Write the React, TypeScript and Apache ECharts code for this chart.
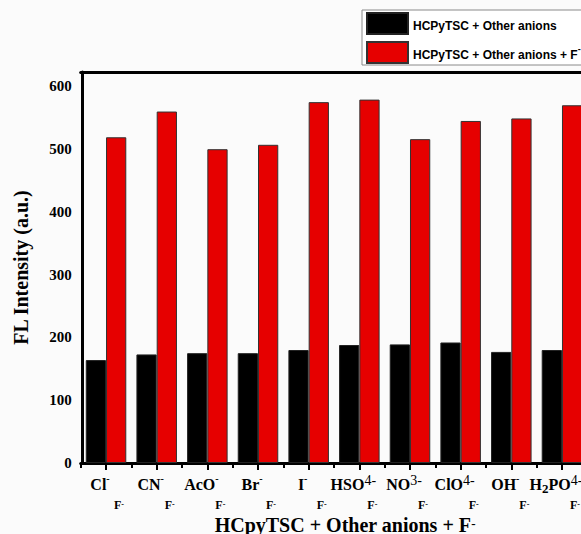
import React, { useEffect, useRef } from "react";
import * as echarts from "echarts";

const anionLabels = [
  "{m|Cl}{sup|-}",
  "{m|CN}{sup|-}",
  "{m|AcO}{sup|-}",
  "{m|Br}{sup|-}",
  "{m|I}{sup|-}",
  "{m|HSO}{sup2|4-}",
  "{m|NO}{sup2|3-}",
  "{m|ClO}{sup2|4-}",
  "{m|OH}{sup|-}",
  "{m|H}{sub|2}{m|PO}{sup2|4-}",
];
const categories = ["Cl-", "CN-", "AcO-", "Br-", "I-", "HSO4-", "NO3-", "ClO4-", "OH-", "H2PO4-"];
const seriesNames = ["HCPyTSC + Other anions", "HCPyTSC + Other anions + F-"];
const withoutF = [164, 173, 175, 175, 180, 188, 189, 192, 177, 180];
const withF = [519, 560, 500, 507, 575, 579, 516, 545, 549, 570];
const yTicks = { min: 0, max: 623, interval: 100 };

const serif = "'Times New Roman', 'Liberation Serif', serif";

export default function App() {
  const ref = useRef<HTMLDivElement>(null);
  useEffect(() => {
    if (!ref.current) return;
    const chart = echarts.init(ref.current, undefined, { renderer: "svg" });
    const richLabel = {
      m: { fontFamily: serif, fontWeight: "bold", fontSize: 16, color: "#000", lineHeight: 22, verticalAlign: "middle" },
      sup: { fontFamily: serif, fontWeight: "bold", fontSize: 10, color: "#000", lineHeight: 10, verticalAlign: "top" },
      sup2: { fontFamily: serif, fontSize: 14, color: "#000", lineHeight: 12, verticalAlign: "top" },
      sub: { fontFamily: serif, fontWeight: "bold", fontSize: 13, color: "#000", lineHeight: 8, verticalAlign: "bottom" },
    };
    chart.setOption({
      animation: false,
      backgroundColor: "#fbfbfb",
      legend: {
        orient: "vertical",
        left: 362,
        top: 10,
        padding: [2, 14, 1, 4],
        itemWidth: 41,
        itemHeight: 21,
        itemGap: 6,
        borderColor: "#8a8a8a",
        borderWidth: 1,
        backgroundColor: "#fff",
        icon: "rect",
        data: seriesNames,
        formatter: (n: string) =>
          n.endsWith("F-") ? "{a|" + n.slice(0, -1) + "}{s|-}" : "{a|" + n + "}",
        textStyle: {
          rich: {
            a: { fontFamily: "Arial, 'Liberation Sans', sans-serif", fontWeight: "bold", fontSize: 12, color: "#000", lineHeight: 16, verticalAlign: "bottom" },
            s: { fontFamily: "Arial, 'Liberation Sans', sans-serif", fontWeight: "bold", fontSize: 9, color: "#000", lineHeight: 10, verticalAlign: "top" },
          },
        },
      },
      grid: { left: 80.7, right: -6.3, top: 72, bottom: 71, containLabel: false, outerBoundsMode: "none" },
      xAxis: [
        {
          type: "category",
          data: categories,
          position: "bottom",
          axisLine: { show: true, lineStyle: { color: "#000", width: 3 } },
          axisTick: { show: true, length: 5, lineStyle: { color: "#000", width: 2 } },
          axisLabel: {
            interval: 0,
            margin: 10,
            padding: [0, 12, 0, 0],
            formatter: (_v: string, i: number) => anionLabels[i],
            rich: richLabel,
          },
          name: "{t|HCpyTSC + Other anions + F}{ts|-}",
          nameLocation: "middle",
          nameGap: 54,
          nameTextStyle: {
            padding: [0, 0, 0, 22],
            rich: {
              t: { fontFamily: serif, fontWeight: "bold", fontSize: 20, color: "#000", lineHeight: 18, verticalAlign: "bottom" },
              ts: { fontFamily: serif, fontWeight: "bold", fontSize: 13, color: "#000", lineHeight: 10, verticalAlign: "top" },
            },
          },
          splitLine: { show: false },
        },
        {
          type: "category",
          data: categories,
          position: "bottom",
          axisLine: { show: false },
          axisTick: { show: true, alignWithLabel: true, length: 7, lineStyle: { color: "#000", width: 2 } },
          axisLabel: {
            interval: 0,
            margin: 37,
            padding: [0, 0, 0, 26],
            formatter: () => "{f|F}{fs|-}",
            rich: {
              f: { fontFamily: serif, fontWeight: "bold", fontSize: 12, color: "#000", lineHeight: 11, verticalAlign: "bottom" },
              fs: { fontFamily: serif, fontWeight: "bold", fontSize: 8, color: "#000", lineHeight: 6, verticalAlign: "top" },
            },
          },
          splitLine: { show: false },
        },
        {
          type: "category",
          data: categories,
          position: "top",
          axisLine: { show: true, lineStyle: { color: "#000", width: 3 } },
          axisTick: { show: false },
          axisLabel: { show: false },
          splitLine: { show: false },
        },
      ],
      yAxis: {
        type: "value",
        min: yTicks.min,
        max: yTicks.max,
        interval: yTicks.interval,
        offset: -2,
        axisLine: { show: true, lineStyle: { color: "#000", width: 3 } },
        axisTick: { show: false },
        splitLine: { show: false },
        axisLabel: {
          showMaxLabel: false,
          margin: 11,
          fontFamily: serif,
          fontWeight: "bold",
          fontSize: 15,
          color: "#000",
        },
        name: "FL Intensity (a.u.)",
        nameLocation: "middle",
        nameGap: 52,
        nameTextStyle: { fontFamily: serif, fontWeight: "bold", fontSize: 20, color: "#000" },
      },
      series: [
        {
          name: seriesNames[0],
          type: "bar",
          data: withoutF,
          xAxisIndex: 0,
          barGap: "0%",
          barCategoryGap: "20%",
          itemStyle: { color: "#000", borderColor: "#222", borderWidth: 1 },
        },
        {
          name: seriesNames[1],
          type: "bar",
          data: withF,
          xAxisIndex: 0,
          barGap: "0%",
          barCategoryGap: "20%",
          itemStyle: { color: "#e60000", borderColor: "#333", borderWidth: 1 },
        },
      ],
    });
    return () => chart.dispose();
  }, []);
  return (
    <div
      ref={ref}
      style={{ position: "fixed", left: 0, top: 0, width: 581, height: 534 }}
    />
  );
}
